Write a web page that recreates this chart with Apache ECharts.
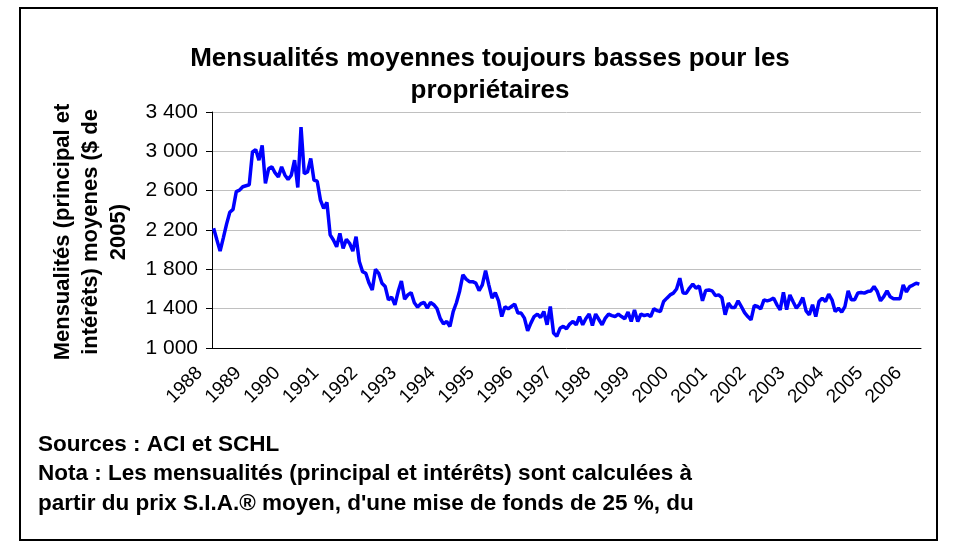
<!DOCTYPE html>
<html>
<head>
<meta charset="utf-8">
<script src="https://cdn.jsdelivr.net/npm/echarts@6/dist/echarts.min.js"></script>
<style>
  html, body { margin: 0; padding: 0; background: #fff; }
  #chart { width: 959px; height: 554px; }
</style>
</head>
<body>
<div id="chart"></div>
<script>
  // étiquettes de l'axe horizontal (une par année, au mois de janvier)
  const years = ['1988', '1989', '1990', '1991', '1992', '1993', '1994', '1995', '1996', '1997',
    '1998', '1999', '2000', '2001', '2002', '2003', '2004', '2005', '2006']

  // mensualités moyennes ($ de 2005), mensuel, janv. 1988 -> mars 2006
  const payments = [
    2217, 2100, 1985, 2120, 2260, 2380, 2410, 2590, 2605, 2640, 2650, 2660, // 1988
    2995, 3018, 2910, 3060, 2675, 2825, 2842, 2780, 2740, 2842, 2760, 2714, // 1989
    2757, 2910, 2633, 3247, 2774, 2790, 2927, 2707, 2696, 2504, 2420, 2480, // 1990
    2150, 2098, 2030, 2166, 2014, 2105, 2065, 1985, 2132, 1880, 1777, 1760, // 1991
    1660, 1590, 1800, 1760, 1659, 1625, 1490, 1517, 1439, 1574, 1682, 1497, // 1992
    1540, 1564, 1460, 1416, 1450, 1463, 1405, 1463, 1440, 1400, 1300, 1246, // 1993
    1270, 1219, 1371, 1460, 1580, 1743, 1700, 1675, 1675, 1660, 1584, 1642, // 1994
    1787, 1642, 1507, 1564, 1480, 1320, 1420, 1398, 1422, 1446, 1355, 1355, // 1995
    1304, 1175, 1253, 1320, 1345, 1310, 1371, 1236, 1422, 1152, 1118, 1200, // 1996
    1220, 1196, 1243, 1270, 1236, 1320, 1236, 1300, 1345, 1229, 1345, 1290, // 1997
    1236, 1304, 1345, 1330, 1320, 1345, 1320, 1297, 1365, 1270, 1388, 1270, // 1998
    1345, 1330, 1340, 1320, 1400, 1380, 1371, 1473, 1507, 1540, 1558, 1600, // 1999
    1710, 1560, 1558, 1610, 1649, 1608, 1630, 1480, 1585, 1590, 1581, 1533, // 2000
    1540, 1513, 1338, 1456, 1412, 1412, 1480, 1422, 1360, 1320, 1287, 1432, // 2001
    1422, 1398, 1490, 1480, 1490, 1507, 1439, 1388, 1565, 1390, 1540, 1470, // 2002
    1405, 1446, 1513, 1378, 1338, 1439, 1320, 1473, 1507, 1473, 1548, 1490, // 2003
    1371, 1405, 1365, 1422, 1581, 1490, 1490, 1560, 1565, 1558, 1574, 1580, // 2004
    1625, 1574, 1480, 1523, 1581, 1520, 1500, 1500, 1500, 1642, 1570, 1625, // 2005
    1640, 1659, 1650 // 2006
  ]

  const title = ['Mensualités moyennes toujours basses pour les', 'propriétaires']
  const yTitle = ['Mensualités (principal et', 'intérêts) moyenes ($ de', '2005)']
  const notes = [
    'Sources : ACI et SCHL',
    'Nota : Les mensualités (principal et intérêts) sont calculées à',
    "partir du prix S.I.A.® moyen, d'une mise de fonds de 25 %, du"
  ]

  // une catégorie par mois : "1988-1", "1988-2", ...
  const months = []
  years.forEach(y => {
    for (let m = 1; m <= 12; m++) {
      if (months.length < payments.length) months.push(y + '-' + m)
    }
  })

  const font = '"Liberation Sans", Arial, sans-serif'
  const chart = echarts.init(document.getElementById('chart'))

  const option = {
    animation: false,
    backgroundColor: '#fff',
    grid: { left: 212, right: 38, top: 112, bottom: 206 },
    xAxis: {
      type: 'category',
      data: months,
      boundaryGap: true,
      axisLine: { lineStyle: { color: '#000', width: 1 } },
      axisTick: { interval: 11, length: 6, lineStyle: { color: '#000' } },
      axisLabel: {
        interval: 11,
        rotate: 45,
        margin: 8,
        padding: [0, 20, 0, 0], // décale le texte le long de la diagonale
        color: '#000',
        fontFamily: font,
        fontSize: 19,
        formatter: v => v.split('-')[0]
      },
      splitLine: { show: false }
    },
    yAxis: {
      type: 'value',
      min: 1000,
      max: 3400,
      interval: 400,
      axisLine: { show: true, lineStyle: { color: '#000', width: 1 } },
      axisTick: { show: true, length: 6, lineStyle: { color: '#000' } },
      axisLabel: {
        margin: 14,
        color: '#000',
        fontFamily: font,
        fontSize: 21,
        formatter: v => String(v).replace(/\B(?=(\d{3})+(?!\d))/g, ' ')
      },
      splitLine: { lineStyle: { color: '#c0c0c0', width: 1 } }
    },
    series: [
      {
        type: 'line',
        data: payments,
        symbol: 'none',
        lineStyle: { color: '#0000ff', width: 3.5 },
        itemStyle: { color: '#0000ff' }
      }
    ],
    graphic: [
      {
        type: 'rect',
        shape: { x: 20, y: 8, width: 917, height: 532 },
        style: { fill: 'none', stroke: '#000', lineWidth: 2 },
        silent: true
      },
      {
        type: 'text',
        x: 490,
        y: 75,
        style: {
          text: title.join('\n'),
          font: 'bold 26px ' + font,
          lineHeight: 32,
          fill: '#000',
          textAlign: 'center',
          textVerticalAlign: 'middle'
        }
      },
      {
        type: 'text',
        x: 91,
        y: 232,
        rotation: Math.PI / 2,
        style: {
          text: yTitle.join('\n'),
          font: 'bold 22px ' + font,
          lineHeight: 28,
          fill: '#000',
          textAlign: 'center',
          textVerticalAlign: 'middle'
        }
      },
      {
        type: 'text',
        left: 38,
        top: 430,
        style: {
          text: notes.join('\n'),
          font: 'bold 22.5px ' + font,
          lineHeight: 29.5,
          fill: '#000'
        }
      }
    ]
  }

  chart.setOption(option)
</script>
</body>
</html>
